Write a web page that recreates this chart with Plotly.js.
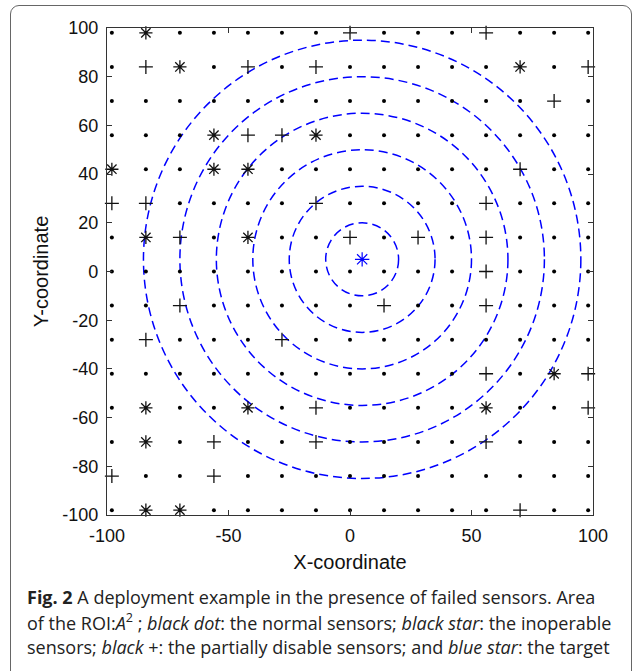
<!DOCTYPE html>
<html>
<head>
<meta charset="utf-8">
<script src="https://cdn.plot.ly/plotly-3.0.1.min.js"></script>
<style>
  html, body { margin: 0; padding: 0; background: #fff; }
  #wrap { position: relative; width: 635px; height: 671px; }
  #chart { position: absolute; left: 0; top: 0; width: 635px; height: 671px; }
  #frame { position: absolute; left: 10px; top: 5px; width: 622px; height: 680px;
           border: 1.5px solid #666; border-radius: 9px; pointer-events: none; box-sizing: border-box; }
</style>
</head>
<body>
<div id="wrap">
  <div id="chart"></div>
  <div id="frame"></div>
</div>
<script>
// Sensor grid coordinates
const gridX = [-98, -84, -70, -56, -42, -28, -14, 0, 14, 28, 42, 56, 70, 84, 98];
const gridY = [-98, -84, -70, -56, -42, -28, -14, 0, 14, 28, 42, 56, 70, 84, 98];

// Inoperable sensors (black star)
const starX = [-84, -70, 70, -56, -14, -98, -56, -42, -84, -42, 84, -84, -42, 56, -84, -84, -70];
const starY = [98, 84, 84, 56, 56, 42, 42, 42, 14, 14, -42, -56, -56, -56, -70, -98, -98];

// Partially disabled sensors (black +)
const plusX = [0, 56, -84, -42, -14, 98, 84, -42, -28, 70, -98, -84, -14, 56, -70, 0, 28, 56, 56,
               -70, 14, 56, -84, -28, 56, 98, -14, 98, -56, -14, 56, -98, -56, 70];
const plusY = [98, 98, 84, 84, 84, 84, 70, 56, 56, 42, 28, 28, 28, 28, 14, 14, 14, 14, 0,
               -14, -14, -14, -28, -28, -42, -42, -56, -56, -70, -70, -70, -84, -84, -98];

// Target (blue star)
const targetX = [5];
const targetY = [5];

// Coverage rings around the target
const ringRadii = [15, 30, 45, 60, 75, 90];

// Axis ticks
const xTicks = [-100, -50, 0, 50, 100];
const yTicks = [-100, -80, -60, -40, -20, 0, 20, 40, 60, 80, 100];

// Normal sensors: grid points that are neither stars nor pluses
const failed = new Set();
starX.forEach((x, i) => failed.add(x + ',' + starY[i]));
plusX.forEach((x, i) => failed.add(x + ',' + plusY[i]));
const dotX = [], dotY = [];
gridY.forEach(y => gridX.forEach(x => {
  if (!failed.has(x + ',' + y)) { dotX.push(x); dotY.push(y); }
}));

const traces = [
  { type: 'scatter', mode: 'markers', x: dotX, y: dotY, cliponaxis: false, hoverinfo: 'skip',
    marker: { symbol: 'circle', size: 4, color: '#000' } },
  { type: 'scatter', mode: 'markers', x: starX, y: starY, cliponaxis: false,
    marker: { symbol: 'asterisk-open', size: 11, color: '#111', line: { color: '#111', width: 1.3 } } },
  { type: 'scatter', mode: 'markers', x: plusX, y: plusY, cliponaxis: false,
    marker: { symbol: 'cross-thin-open', size: 10, color: '#111', line: { color: '#111', width: 1.3 } } },
  { type: 'scatter', mode: 'markers', x: targetX, y: targetY, cliponaxis: false,
    marker: { symbol: 'asterisk-open', size: 12, color: '#0000ff', line: { color: '#0000ff', width: 1.2 } } }
];

const shapes = ringRadii.map(r => ({
  type: 'circle', xref: 'x', yref: 'y', layer: 'below',
  x0: targetX[0] - r, x1: targetX[0] + r, y0: targetY[0] - r, y1: targetY[0] + r,
  line: { color: '#0000ff', width: 1.5, dash: '9px,5px' }
}));

const L = 107, R = 42, T = 28, B = 156;
const plotW = 635 - L - R, plotH = 671 - T - B;
const px2x = px => (px - L) / plotW;
const px2y = py => (671 - B - py) / plotH;

const capFont = { family: '"Open Sans", "Noto Sans", sans-serif', size: 18, color: '#222' };
const captionLines = [
  '<b>Fig. 2</b> A deployment example in the presence of failed sensors. Area',
  'of the ROI:<i>A</i><sup>2</sup> ; <i>black dot</i>: the normal sensors; <i>black star</i>: the inoperable',
  'sensors; <i>black</i> +: the partially disable sensors; and <i>blue star</i>: the target'
];
const captionY = [597, 622, 647];
const annotations = captionLines.map((t, i) => ({
  text: t, xref: 'paper', yref: 'paper', x: px2x(25), y: px2y(captionY[i]),
  xanchor: 'left', yanchor: 'middle', showarrow: false, align: 'left', font: capFont
}));

const axisCommon = {
  showgrid: false, zeroline: false, showline: true, mirror: 'ticks',
  linecolor: '#333', linewidth: 1.2, ticks: 'inside', ticklen: 5, tickcolor: '#333', tickwidth: 1,
  tickfont: { family: '"Liberation Sans", Arial, sans-serif', size: 18, color: '#111' },
  automargin: false, fixedrange: true
};

const layout = {
  width: 635, height: 671,
  margin: { l: L, r: R, t: T, b: B },
  paper_bgcolor: 'rgba(0,0,0,0)', plot_bgcolor: '#fff',
  showlegend: false,
  xaxis: Object.assign({}, axisCommon, {
    range: [-100, 100], tickvals: xTicks, ticktext: xTicks.map(String), ticklabelstandoff: 4,
    title: { text: 'X-coordinate', standoff: 10,
             font: { family: '"Liberation Sans", Arial, sans-serif', size: 20, color: '#111' } }
  }),
  yaxis: Object.assign({}, axisCommon, {
    range: [-100, 100], tickvals: yTicks, ticktext: yTicks.map(String), ticklabelstandoff: 4,
    automargin: true,
    title: { text: 'Y-coordinate', standoff: 8,
             font: { family: '"Liberation Sans", Arial, sans-serif', size: 20, color: '#111' } }
  }),
  shapes: shapes,
  annotations: annotations
};

Plotly.newPlot('chart', traces, layout, { staticPlot: true, displayModeBar: false });
</script>
</body>
</html>
